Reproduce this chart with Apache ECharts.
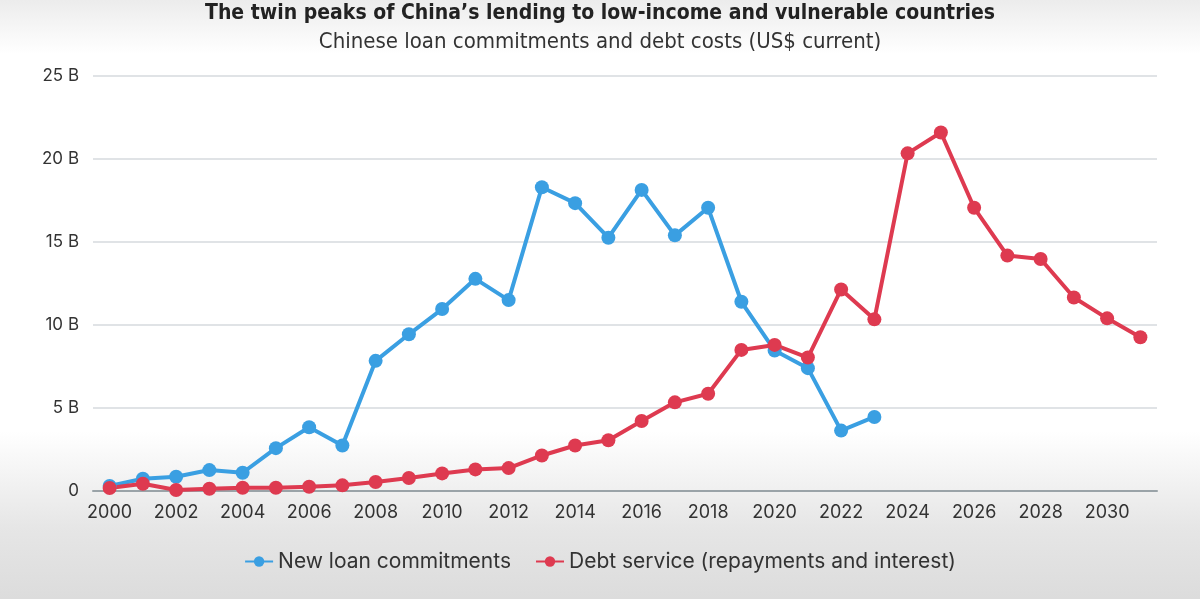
<!DOCTYPE html>
<html>
<head>
<meta charset="utf-8">
<script src="https://cdn.jsdelivr.net/npm/echarts@6/dist/echarts.min.js"></script>
<style>
  html, body { margin: 0; padding: 0; }
  body {
    width: 1200px; height: 599px;
    background: linear-gradient(to bottom, #ececec 0%, #ffffff 9%, #ffffff 72%, #e6e6e6 88%, #dcdcdc 100%);
  }
  #chart { width: 1200px; height: 599px; }
</style>
</head>
<body>
<div id="chart"></div>
<script>
var years = [];
for (var y = 2000; y <= 2031; y++) years.push(String(y));

// New loan commitments, US$ billions (2000-2023)
var newLoans = [0.3, 0.74, 0.86, 1.26, 1.1, 2.58, 3.84, 2.74, 7.84, 9.44,
  10.96, 12.78, 11.5, 18.3, 17.34, 15.26, 18.14, 15.4, 17.06, 11.4,
  8.46, 7.4, 3.64, 4.46];

// Debt service (repayments and interest), US$ billions (2000-2031)
var debtService = [0.18, 0.44, 0.06, 0.14, 0.2, 0.2, 0.26, 0.34, 0.54, 0.78,
  1.06, 1.3, 1.38, 2.14, 2.74, 3.06, 4.22, 5.34, 5.86, 8.5,
  8.8, 8.04, 12.14, 10.34, 20.34, 21.6, 17.06, 14.18, 13.98, 11.66,
  10.4, 9.26];

var narrow = '"DejaVu Sans Condensed", Roboto, sans-serif';

var chart = echarts.init(document.getElementById('chart'));

var option = {
    backgroundColor: 'transparent',
    title: {
        text: 'The twin peaks of China\u2019s lending to low-income and vulnerable countries',
        subtext: 'Chinese loan commitments and debt costs (US$ current)',
        left: 'center',
        top: -2,
        itemGap: 7,
        textStyle: {
            fontFamily: narrow,
            fontSize: 21,
            fontWeight: 'bold',
            color: '#222'
        },
        subtextStyle: {
            fontFamily: narrow,
            fontSize: 22,
            color: '#333'
        }
    },
    legend: {
        bottom: 22,
        left: 'center',
        itemWidth: 28,
        itemHeight: 13,
        itemGap: 24,
        textStyle: { fontFamily: 'Inter', fontSize: 21, color: '#333' },
        data: ['New loan commitments', 'Debt service (repayments and interest)']
    },
    grid: {
        left: 93,
        right: 43,
        top: 76,
        bottom: 108,
        containLabel: false
    },
    xAxis: {
        type: 'category',
        data: years,
        boundaryGap: true,
        axisTick: { show: false },
        axisLine: { lineStyle: { color: '#9aa3a8', width: 2 } },
        axisLabel: {
            interval: 1,
            fontFamily: 'Inter',
            fontSize: 18,
            color: '#333',
            margin: 13
        }
    },
    yAxis: {
        type: 'value',
        min: 0,
        max: 25,
        interval: 5,
        axisLine: { show: false },
        axisTick: { show: false },
        splitLine: { lineStyle: { color: '#e0e3e6', width: 2 } },
        axisLabel: {
            fontFamily: 'Inter',
            fontSize: 17,
            color: '#333',
            margin: 14,
            formatter: function (v) { return v === 0 ? '0' : v + ' B'; }
        }
    },
    series: [
        {
            name: 'New loan commitments',
            type: 'line',
            data: newLoans,
            symbol: 'circle',
            symbolSize: 14,
            lineStyle: { width: 4, color: '#3a9fe2' },
            itemStyle: { color: '#3a9fe2' }
        },
        {
            name: 'Debt service (repayments and interest)',
            type: 'line',
            data: debtService,
            symbol: 'circle',
            symbolSize: 14,
            lineStyle: { width: 4, color: '#de3a50' },
            itemStyle: { color: '#de3a50' }
        }
    ]
};

chart.setOption(option);
</script>
</body>
</html>
